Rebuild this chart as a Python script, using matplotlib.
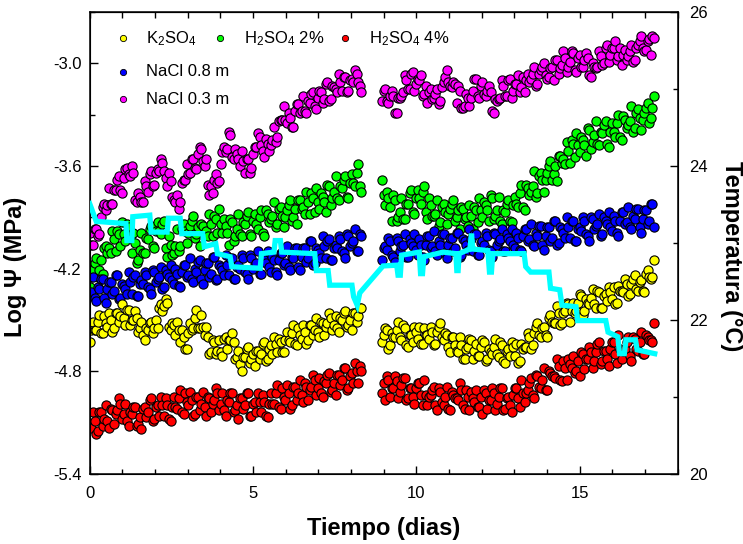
import numpy as np
import matplotlib
matplotlib.use("Agg")
import matplotlib.pyplot as plt
from matplotlib.ticker import MultipleLocator, FormatStrFormatter

plt.rcParams['font.family'] = ['Liberation Sans', 'DejaVu Sans']
plt.rcParams['mathtext.default'] = 'regular'

# ---------------- data ----------------
# sampling times (days) of the two measurement periods; "b" readings fall between
t_seg1 = np.linspace(0.0, 8.32, 85)
t_seg2 = np.linspace(8.95, 17.28, 85)
t_seg1b = (t_seg1[:-1] + t_seg1[1:]) / 2
t_seg2b = (t_seg2[:-1] + t_seg2[1:]) / 2

nacl03_1 = [-3.99,-4.06,-3.97,-4.00,-3.84,-3.86,-3.73,-3.82,-3.74,-3.66,
 -3.76,-3.62,-3.65,-3.60,-3.80,-3.76,-3.81,-3.69,-3.75,-3.63,
 -3.71,-3.62,-3.56,-3.63,-3.72,-3.69,-3.80,-3.77,-3.81,-3.68,
 -3.59,-3.64,-3.56,-3.62,-3.49,-3.57,-3.56,-3.77,-3.76,-3.65,
 -3.69,-3.52,-3.52,-3.40,-3.55,-3.50,-3.56,-3.51,-3.64,-3.56,
 -3.61,-3.49,-3.41,-3.48,-3.55,-3.47,-3.48,-3.37,-3.43,-3.33,
 -3.25,-3.35,-3.32,-3.37,-3.24,-3.29,-3.19,-3.29,-3.23,-3.17,
 -3.27,-3.16,-3.23,-3.12,-3.22,-3.13,-3.15,-3.06,-3.16,-3.08,
 -3.16,-3.09,-3.04,-3.11,-3.17]
nacl03_1b = [-4.06,-3.97,-4.01,-3.90,-3.82,-3.83,-3.82,-3.74,-3.68,-3.74,
 -3.67,-3.61,-3.66,-3.64,-3.81,-3.78,-3.81,-3.72,-3.65,-3.72,
 -3.64,-3.63,-3.58,-3.67,-3.64,-3.78,-3.81,-3.85,-3.70,-3.68,
 -3.65,-3.56,-3.61,-3.53,-3.50,-3.60,-3.71,-3.72,-3.68,-3.70,
 -3.59,-3.49,-3.50,-3.42,-3.56,-3.53,-3.60,-3.57,-3.56,-3.64,
 -3.53,-3.49,-3.43,-3.51,-3.44,-3.51,-3.45,-3.46,-3.34,-3.33,
 -3.33,-3.29,-3.37,-3.28,-3.24,-3.28,-3.28,-3.22,-3.18,-3.25,
 -3.20,-3.17,-3.21,-3.11,-3.21,-3.14,-3.17,-3.11,-3.08,-3.17,
 -3.10,-3.11,-3.06,-3.13]
nacl03_2 = [-3.22,-3.15,-3.23,-3.16,-3.29,-3.20,-3.19,-3.07,-3.15,-3.06,
 -3.16,-3.09,-3.07,-3.18,-3.23,-3.15,-3.20,-3.15,-3.22,-3.11,
 -3.04,-3.13,-3.11,-3.23,-3.16,-3.26,-3.18,-3.25,-3.16,-3.09,
 -3.20,-3.11,-3.19,-3.13,-3.28,-3.21,-3.21,-3.10,-3.19,-3.10,
 -3.20,-3.12,-3.07,-3.14,-3.17,-3.06,-3.09,-3.02,-3.12,-3.04,
 -3.00,-3.09,-3.03,-3.10,-2.98,-3.03,-2.93,-3.05,-2.99,-2.94,
 -3.05,-2.95,-3.02,-2.94,-3.07,-3.00,-3.03,-2.93,-3.01,-2.91,
 -2.99,-2.91,-2.87,-2.96,-3.01,-2.92,-2.96,-2.89,-2.98,-2.89,
 -2.84,-2.93,-2.87,-2.95,-2.85]
nacl03_2b = [-3.16,-3.22,-3.19,-3.19,-3.29,-3.20,-3.17,-3.10,-3.15,-3.05,
 -3.12,-3.10,-3.19,-3.13,-3.17,-3.21,-3.18,-3.24,-3.14,-3.08,
 -3.11,-3.14,-3.12,-3.13,-3.26,-3.25,-3.20,-3.20,-3.09,-3.19,
 -3.13,-3.18,-3.16,-3.17,-3.29,-3.22,-3.20,-3.13,-3.19,-3.09,
 -3.16,-3.12,-3.17,-3.08,-3.10,-3.11,-3.06,-3.13,-3.06,-3.02,
 -3.07,-3.08,-3.02,-2.98,-3.06,-3.01,-2.97,-3.02,-2.93,-3.04,
 -2.97,-3.02,-2.98,-2.97,-3.08,-3.02,-3.02,-2.96,-3.00,-2.89,
 -2.95,-2.91,-2.98,-2.91,-2.95,-2.98,-2.93,-2.99,-2.91,-2.87,
 -2.91,-2.92,-2.86,-2.84]

h2so4_2_1 = [-4.31,-4.21,-4.14,-4.21,-4.23,-4.07,-4.08,-3.98,-4.10,-4.00,
 -3.93,-4.04,-3.96,-4.11,-4.05,-4.15,-3.99,-4.11,-4.03,-3.95,
 -4.08,-3.93,-4.00,-3.92,-4.13,-4.06,-4.11,-3.97,-4.07,-3.94,
 -4.05,-3.95,-3.89,-4.00,-4.07,-3.95,-3.98,-3.88,-4.01,-3.91,
 -3.85,-3.99,-3.95,-4.06,-3.93,-4.01,-3.88,-4.01,-3.94,-3.87,
 -4.01,-3.88,-3.97,-3.86,-4.01,-3.88,-3.91,-3.81,-3.94,-3.84,
 -3.96,-3.86,-3.80,-3.90,-3.94,-3.80,-3.84,-3.75,-3.88,-3.79,
 -3.73,-3.85,-3.78,-3.87,-3.72,-3.79,-3.66,-3.80,-3.73,-3.66,
 -3.79,-3.65,-3.72,-3.59,-3.75]
h2so4_2_1b = [-4.25,-4.17,-4.25,-4.15,-4.08,-4.11,-4.11,-4.03,-3.98,-4.07,
 -4.00,-3.94,-4.02,-3.99,-4.17,-4.09,-4.11,-4.02,-3.97,-4.07,
 -3.98,-3.98,-3.94,-4.08,-4.01,-4.12,-4.07,-4.10,-3.97,-3.98,
 -3.99,-3.92,-4.02,-3.96,-3.94,-4.00,-4.01,-3.94,-3.89,-3.99,
 -3.94,-3.91,-3.99,-3.91,-4.04,-3.97,-4.00,-3.93,-3.89,-4.00,
 -3.92,-3.94,-3.90,-3.99,-3.86,-3.93,-3.89,-3.96,-3.85,-3.89,
 -3.90,-3.83,-3.92,-3.85,-3.80,-3.85,-3.88,-3.81,-3.76,-3.87,
 -3.81,-3.76,-3.81,-3.71,-3.83,-3.75,-3.79,-3.72,-3.68,-3.78,
 -3.70,-3.70,-3.64,-3.72]
h2so4_2_2 = [-3.68,-3.83,-3.79,-3.92,-3.80,-3.90,-3.79,-3.91,-3.82,-3.74,
 -3.88,-3.74,-3.82,-3.72,-3.91,-3.83,-3.89,-3.80,-3.93,-3.82,
 -3.94,-3.85,-3.80,-3.90,-3.97,-3.85,-3.90,-3.83,-3.97,-3.86,
 -3.79,-3.90,-3.83,-3.92,-3.79,-3.89,-3.78,-3.94,-3.87,-3.80,
 -3.93,-3.78,-3.84,-3.71,-3.86,-3.73,-3.75,-3.63,-3.76,-3.64,
 -3.75,-3.64,-3.57,-3.65,-3.69,-3.54,-3.56,-3.46,-3.58,-3.47,
 -3.41,-3.52,-3.45,-3.54,-3.39,-3.46,-3.34,-3.48,-3.41,-3.34,
 -3.49,-3.35,-3.43,-3.30,-3.45,-3.33,-3.36,-3.25,-3.38,-3.27,
 -3.39,-3.29,-3.23,-3.32,-3.19]
h2so4_2_2b = [-3.77,-3.75,-3.84,-3.77,-3.92,-3.87,-3.91,-3.82,-3.76,-3.87,
 -3.79,-3.79,-3.75,-3.87,-3.79,-3.89,-3.88,-3.95,-3.84,-3.87,
 -3.88,-3.82,-3.92,-3.86,-3.84,-3.91,-3.95,-3.89,-3.84,-3.93,
 -3.86,-3.81,-3.86,-3.77,-3.91,-3.86,-3.92,-3.86,-3.82,-3.92,
 -3.83,-3.82,-3.76,-3.84,-3.71,-3.77,-3.72,-3.78,-3.66,-3.68,
 -3.68,-3.60,-3.68,-3.60,-3.54,-3.58,-3.59,-3.51,-3.45,-3.55,
 -3.48,-3.43,-3.48,-3.38,-3.50,-3.42,-3.47,-3.40,-3.36,-3.47,
 -3.40,-3.40,-3.35,-3.43,-3.31,-3.38,-3.34,-3.40,-3.29,-3.32,
 -3.33,-3.26,-3.35,-3.26]

nacl08_1 = [-4.35,-4.25,-4.39,-4.32,-4.26,-4.40,-4.28,-4.35,-4.24,-4.38,
 -4.29,-4.32,-4.22,-4.35,-4.24,-4.36,-4.27,-4.22,-4.31,-4.35,
 -4.22,-4.26,-4.19,-4.31,-4.23,-4.18,-4.29,-4.23,-4.31,-4.18,
 -4.25,-4.14,-4.28,-4.22,-4.15,-4.29,-4.17,-4.25,-4.13,-4.27,
 -4.18,-4.21,-4.12,-4.24,-4.14,-4.26,-4.18,-4.12,-4.22,-4.26,
 -4.14,-4.18,-4.10,-4.23,-4.15,-4.10,-4.22,-4.15,-4.24,-4.11,
 -4.18,-4.07,-4.21,-4.14,-4.08,-4.21,-4.08,-4.16,-4.04,-4.18,
 -4.08,-4.11,-4.01,-4.14,-4.03,-4.15,-4.06,-4.01,-4.10,-4.14,
 -4.01,-4.05,-3.97,-4.10,-4.01]
nacl08_1b = [-4.34,-4.37,-4.31,-4.26,-4.37,-4.32,-4.28,-4.33,-4.24,-4.37,
 -4.30,-4.35,-4.28,-4.25,-4.36,-4.29,-4.29,-4.24,-4.32,-4.21,
 -4.28,-4.25,-4.32,-4.21,-4.25,-4.27,-4.20,-4.30,-4.22,-4.18,
 -4.24,-4.26,-4.20,-4.16,-4.26,-4.21,-4.17,-4.23,-4.13,-4.26,
 -4.19,-4.24,-4.18,-4.14,-4.26,-4.19,-4.20,-4.14,-4.23,-4.12,
 -4.20,-4.17,-4.23,-4.13,-4.17,-4.19,-4.13,-4.22,-4.15,-4.11,
 -4.17,-4.19,-4.13,-4.08,-4.19,-4.13,-4.08,-4.14,-4.04,-4.17,
 -4.09,-4.14,-4.07,-4.04,-4.15,-4.08,-4.08,-4.03,-4.11,-4.00,
 -4.07,-4.04,-4.10,-4.00]
nacl08_2 = [-4.15,-4.07,-4.02,-4.12,-4.16,-4.04,-4.07,-4.00,-4.13,-4.05,
 -4.00,-4.12,-4.06,-4.15,-4.01,-4.08,-3.98,-4.12,-4.06,-4.00,
 -4.14,-4.02,-4.10,-3.99,-4.13,-4.03,-4.06,-3.97,-4.10,-4.00,
 -4.12,-4.04,-3.99,-4.09,-4.13,-4.00,-4.04,-3.97,-4.10,-4.02,
 -3.97,-4.08,-4.02,-4.10,-3.97,-4.04,-3.94,-4.07,-4.01,-3.95,
 -4.09,-3.96,-4.04,-3.92,-4.06,-3.96,-3.99,-3.90,-4.02,-3.92,
 -4.04,-3.96,-3.90,-4.00,-4.04,-3.91,-3.95,-3.88,-4.00,-3.92,
 -3.87,-3.98,-3.92,-4.01,-3.87,-3.94,-3.84,-3.97,-3.91,-3.85,
 -3.99,-3.86,-3.94,-3.82,-3.96]
nacl08_2b = [-4.08,-4.09,-4.04,-4.13,-4.02,-4.10,-4.06,-4.13,-4.03,-4.07,
 -4.09,-4.03,-4.13,-4.06,-4.01,-4.07,-4.10,-4.04,-4.00,-4.11,
 -4.06,-4.02,-4.08,-3.99,-4.12,-4.04,-4.09,-4.03,-4.00,-4.12,
 -4.05,-4.06,-4.01,-4.10,-3.99,-4.06,-4.03,-4.10,-4.00,-4.04,
 -4.06,-3.99,-4.09,-4.01,-3.97,-4.03,-4.06,-3.99,-3.95,-4.06,
 -4.01,-3.96,-4.02,-3.92,-4.05,-3.97,-4.02,-3.96,-3.92,-4.04,
 -3.97,-3.98,-3.92,-4.01,-3.90,-3.97,-3.94,-4.01,-3.90,-3.94,
 -3.96,-3.89,-3.99,-3.92,-3.87,-3.93,-3.96,-3.89,-3.85,-3.96,
 -3.91,-3.86,-3.92,-3.82]

k2so4_1 = [-4.63,-4.51,-4.56,-4.47,-4.58,-4.52,-4.46,-4.57,-4.46,-4.51,
 -4.41,-4.53,-4.44,-4.50,-4.45,-4.57,-4.51,-4.62,-4.56,-4.51,
 -4.55,-4.55,-4.41,-4.42,-4.40,-4.56,-4.53,-4.51,-4.63,-4.60,
 -4.67,-4.52,-4.55,-4.44,-4.55,-4.54,-4.54,-4.70,-4.62,-4.70,
 -4.62,-4.71,-4.60,-4.62,-4.58,-4.73,-4.68,-4.80,-4.72,-4.66,
 -4.73,-4.77,-4.68,-4.70,-4.63,-4.73,-4.65,-4.60,-4.69,-4.63,
 -4.69,-4.57,-4.63,-4.53,-4.65,-4.59,-4.53,-4.64,-4.53,-4.59,
 -4.49,-4.60,-4.52,-4.54,-4.46,-4.56,-4.48,-4.57,-4.50,-4.45,
 -4.53,-4.56,-4.46,-4.48,-4.43]
k2so4_1b = [-4.56,-4.56,-4.51,-4.58,-4.48,-4.54,-4.50,-4.55,-4.46,-4.48,
 -4.49,-4.44,-4.53,-4.50,-4.49,-4.55,-4.59,-4.55,-4.52,-4.58,
 -4.50,-4.43,-4.45,-4.38,-4.54,-4.52,-4.59,-4.56,-4.56,-4.67,
 -4.58,-4.56,-4.49,-4.55,-4.47,-4.59,-4.60,-4.69,-4.63,-4.68,
 -4.69,-4.61,-4.67,-4.62,-4.63,-4.72,-4.76,-4.72,-4.67,-4.75,
 -4.70,-4.68,-4.73,-4.64,-4.74,-4.67,-4.70,-4.64,-4.61,-4.69,
 -4.62,-4.62,-4.58,-4.64,-4.55,-4.61,-4.57,-4.62,-4.53,-4.56,
 -4.57,-4.51,-4.59,-4.52,-4.49,-4.53,-4.55,-4.49,-4.46,-4.54,
 -4.50,-4.46,-4.51,-4.43]
k2so4_2 = [-4.63,-4.55,-4.67,-4.58,-4.60,-4.51,-4.62,-4.55,-4.66,-4.59,
 -4.54,-4.61,-4.64,-4.55,-4.59,-4.54,-4.65,-4.57,-4.52,-4.62,
 -4.59,-4.69,-4.60,-4.68,-4.60,-4.73,-4.67,-4.61,-4.73,-4.64,
 -4.71,-4.62,-4.74,-4.67,-4.70,-4.61,-4.72,-4.65,-4.75,-4.67,
 -4.63,-4.71,-4.75,-4.64,-4.66,-4.58,-4.67,-4.58,-4.52,-4.60,
 -4.54,-4.60,-4.47,-4.52,-4.42,-4.53,-4.46,-4.40,-4.51,-4.40,
 -4.45,-4.35,-4.47,-4.38,-4.41,-4.32,-4.43,-4.34,-4.43,-4.35,
 -4.31,-4.38,-4.41,-4.30,-4.33,-4.26,-4.36,-4.29,-4.24,-4.33,
 -4.27,-4.34,-4.21,-4.26,-4.15]
k2so4_2b = [-4.59,-4.56,-4.65,-4.60,-4.56,-4.60,-4.53,-4.65,-4.59,-4.63,
 -4.57,-4.54,-4.64,-4.59,-4.61,-4.57,-4.64,-4.54,-4.60,-4.58,
 -4.66,-4.60,-4.65,-4.69,-4.65,-4.73,-4.66,-4.62,-4.68,-4.71,
 -4.66,-4.63,-4.73,-4.69,-4.66,-4.70,-4.63,-4.74,-4.68,-4.71,
 -4.66,-4.64,-4.74,-4.67,-4.66,-4.60,-4.65,-4.54,-4.59,-4.55,
 -4.59,-4.49,-4.51,-4.52,-4.46,-4.52,-4.45,-4.41,-4.45,-4.46,
 -4.40,-4.36,-4.45,-4.40,-4.37,-4.41,-4.33,-4.43,-4.36,-4.39,
 -4.34,-4.31,-4.40,-4.33,-4.34,-4.29,-4.35,-4.26,-4.32,-4.28,
 -4.33,-4.23,-4.25,-4.25]

h2so4_4_1 = [-5.11,-5.04,-5.17,-5.04,-5.12,-5.00,-5.13,-5.03,-5.05,-4.96,
 -5.08,-4.99,-5.12,-5.05,-5.01,-5.11,-5.14,-5.01,-5.04,-4.96,
 -5.08,-5.00,-4.95,-5.06,-5.00,-5.09,-4.95,-5.02,-4.91,-5.05,
 -4.98,-4.92,-5.06,-4.95,-5.03,-4.92,-5.06,-4.96,-4.99,-4.90,
 -5.03,-4.93,-5.06,-4.98,-4.93,-5.03,-5.08,-4.96,-5.00,-4.93,
 -5.06,-4.98,-4.93,-5.04,-4.98,-5.07,-4.93,-4.99,-4.88,-5.02,
 -4.95,-4.88,-5.02,-4.89,-4.97,-4.85,-4.98,-4.89,-4.91,-4.82,
 -4.94,-4.84,-4.95,-4.87,-4.81,-4.91,-4.94,-4.82,-4.85,-4.78,
 -4.90,-4.81,-4.75,-4.87,-4.80]
h2so4_4_1b = [-5.13,-5.09,-5.15,-5.04,-5.08,-5.09,-5.02,-5.11,-5.03,-4.99,
 -5.05,-5.09,-5.04,-5.01,-5.12,-5.07,-5.02,-5.07,-4.97,-5.09,
 -5.01,-5.06,-5.00,-4.96,-5.08,-5.01,-5.01,-4.96,-5.04,-4.93,
 -5.00,-4.97,-5.05,-4.95,-4.99,-5.01,-4.95,-5.04,-4.97,-4.93,
 -4.99,-5.03,-4.97,-4.93,-5.04,-5.00,-4.96,-5.02,-4.93,-5.06,
 -4.99,-5.04,-4.98,-4.94,-5.06,-4.99,-4.99,-4.93,-5.01,-4.90,
 -4.97,-4.93,-5.00,-4.89,-4.93,-4.94,-4.87,-4.97,-4.89,-4.85,
 -4.90,-4.93,-4.86,-4.82,-4.92,-4.87,-4.82,-4.88,-4.78,-4.91,
 -4.83,-4.87,-4.80,-4.77]
h2so4_4_2 = [-4.93,-4.97,-4.85,-4.90,-4.83,-4.96,-4.88,-4.84,-4.96,-4.90,
 -4.99,-4.87,-4.94,-4.85,-5.00,-4.94,-4.89,-5.03,-4.92,-5.00,
 -4.89,-5.03,-4.94,-4.96,-4.87,-5.00,-4.91,-5.03,-4.96,-4.91,
 -5.01,-5.05,-4.93,-4.97,-4.90,-5.03,-4.95,-4.90,-5.02,-4.95,
 -5.04,-4.90,-4.96,-4.85,-4.98,-4.91,-4.84,-4.96,-4.83,-4.90,
 -4.78,-4.91,-4.81,-4.83,-4.73,-4.85,-4.74,-4.85,-4.76,-4.71,
 -4.80,-4.83,-4.70,-4.73,-4.66,-4.78,-4.69,-4.63,-4.74,-4.68,
 -4.77,-4.63,-4.70,-4.59,-4.73,-4.67,-4.60,-4.74,-4.61,-4.68,
 -4.57,-4.70,-4.60,-4.62,-4.52]
h2so4_4_2b = [-4.87,-4.83,-4.95,-4.90,-4.86,-4.92,-4.84,-4.97,-4.90,-4.95,
 -4.90,-4.87,-5.00,-4.94,-4.95,-4.91,-5.00,-4.90,-4.98,-4.95,
 -5.02,-4.92,-4.96,-4.97,-4.91,-5.02,-4.95,-4.92,-4.98,-5.01,
 -4.95,-4.91,-5.02,-4.97,-4.93,-4.99,-4.90,-5.03,-4.96,-5.00,
 -4.94,-4.90,-5.01,-4.93,-4.93,-4.87,-4.94,-4.82,-4.89,-4.85,
 -4.91,-4.80,-4.83,-4.84,-4.77,-4.86,-4.78,-4.73,-4.78,-4.81,
 -4.74,-4.69,-4.79,-4.73,-4.69,-4.74,-4.64,-4.76,-4.68,-4.73,
 -4.67,-4.63,-4.75,-4.67,-4.68,-4.63,-4.71,-4.60,-4.67,-4.63,
 -4.70,-4.59,-4.62,-4.63]

# temperature record (days, deg C)
temp_t = [0.00, 0.20, 1.11, 1.14, 1.29, 1.32, 1.84, 1.88, 2.37, 2.41,
          2.77, 2.82, 3.46, 3.51, 3.86, 3.91, 4.30, 4.35, 5.22, 5.26,
          5.64, 5.68, 5.84, 5.88, 6.89, 6.94, 7.30, 7.35, 8.03, 8.08,
          8.19, 8.27, 8.98, 9.40, 9.44, 9.51, 9.55, 10.09, 10.13, 10.19,
          10.23, 10.82, 11.21, 11.24, 11.28, 11.31, 11.64, 11.69, 11.73, 12.19,
          12.24, 12.30, 12.34, 13.30, 13.35, 13.50, 14.06, 14.11, 14.39, 14.46,
          14.89, 14.94, 15.80, 15.87, 16.17, 16.22, 16.37, 16.42, 16.71, 16.76,
          17.30]
temp_c = [23.51, 23.28, 23.25, 23.03, 23.03, 23.34, 23.36, 23.14, 23.14, 23.32,
          23.32, 23.12, 23.12, 22.95, 22.99, 22.86, 22.82, 22.69, 22.67, 22.86,
          22.88, 23.03, 23.03, 22.88, 22.86, 22.64, 22.64, 22.45, 22.45, 22.30,
          22.19, 22.35, 22.70, 22.71, 22.58, 22.58, 22.84, 22.88, 22.60, 22.60,
          22.82, 22.88, 22.86, 22.64, 22.64, 22.86, 22.92, 23.12, 22.92, 22.90,
          22.62, 22.62, 22.86, 22.86, 22.69, 22.62, 22.62, 22.41, 22.39, 22.19,
          22.17, 21.99, 21.99, 21.84, 21.78, 21.56, 21.56, 21.74, 21.74, 21.61,
          21.56]

series = [
    ("#ff00ff", [nacl03_1, nacl03_1b, nacl03_2, nacl03_2b]),
    ("#00ff00", [h2so4_2_1, h2so4_2_1b, h2so4_2_2, h2so4_2_2b]),
    ("#0000ff", [nacl08_1, nacl08_1b, nacl08_2, nacl08_2b]),
    ("#ffff00", [k2so4_1, k2so4_1b, k2so4_2, k2so4_2b]),
    ("#ff0000", [h2so4_4_1, h2so4_4_1b, h2so4_4_2, h2so4_4_2b]),
]

# ---------------- figure ----------------
fig = plt.figure(figsize=(7.43, 5.44), dpi=100)
ax = fig.add_axes([0.1207, 0.1292, 0.7913, 0.8487])

t_all = np.concatenate([t_seg1, t_seg1b, t_seg2, t_seg2b])
order = np.argsort(t_all, kind='stable')
for col, parts in series:
    v_all = np.concatenate(parts)
    ax.scatter(t_all[order], v_all[order], s=44, c=col,
               edgecolors='black', linewidths=0.8, zorder=3)

ax.set_xlim(0, 18)
ax.set_ylim(-5.4, -2.7)
ax.xaxis.set_major_locator(MultipleLocator(5))
ax.xaxis.set_minor_locator(MultipleLocator(1))
ax.yaxis.set_major_locator(MultipleLocator(0.6))
ax.yaxis.set_minor_locator(MultipleLocator(0.3))
ax.yaxis.set_major_formatter(FormatStrFormatter('%.1f'))
ax.tick_params(which='both', direction='in', top=False, right=False,
               labelsize=12, width=1.0)
ax.tick_params(which='major', length=6)
ax.tick_params(which='minor', length=3.5)
ax.tick_params(axis='y', pad=6)
ax.tick_params(axis='x', pad=9)
for sp in ax.spines.values():
    sp.set_linewidth(1.1)

secax = ax.secondary_xaxis('top')
secax.xaxis.set_major_locator(MultipleLocator(1))
secax.tick_params(direction='in', length=4, width=1.0, labeltop=False)

ax.set_xlabel("Tiempo (dias)", fontsize=17, fontweight='bold')
ax.xaxis.set_label_coords(0.50, -0.094)
ax.set_ylabel("Log \u03a8 (MPa)", fontsize=17, fontweight='bold')
ax.yaxis.set_label_coords(-0.107, 0.448)

ax2 = ax.twinx()
ax2.plot(temp_t, temp_c, color='#00ffff', lw=3.8, solid_joinstyle='miter', zorder=5)
ax2.set_ylim(20, 26)
ax2.yaxis.set_major_locator(MultipleLocator(2))
ax2.yaxis.set_minor_locator(MultipleLocator(1))
ax2.tick_params(which='both', direction='in', labelsize=12, width=1.0, pad=8)
ax2.tick_params(which='major', length=6)
ax2.tick_params(which='minor', length=3.5)
ax2.set_ylabel("Temperatura (\u00b0C)", fontsize=17, fontweight='bold',
               rotation=-90, va='center')
ax2.yaxis.set_label_coords(1.091, 0.471)

# legend (manual layout)
leg_items = [
    ("K$_2$SO$_4$", "#ffff00", 0.057, 0.943, 0.0958),
    ("H$_2$SO$_4$ 2%", "#00ff00", 0.2216, 0.943, 0.2625),
    ("H$_2$SO$_4$ 4%", "#ff0000", 0.4343, 0.943, 0.4756),
    ("NaCl 0.8 m", "#0000ff", 0.057, 0.871, 0.0958),
    ("NaCl 0.3 m", "#ff00ff", 0.057, 0.811, 0.0958),
]
for label, col, mx, my, tx in leg_items:
    ax.plot([mx], [my], 'o', ms=4.5, mfc=col, mec='black', mew=0.6,
            transform=ax.transAxes, zorder=6, clip_on=False)
    ax.text(tx, my, label, transform=ax.transAxes, fontsize=12,
            va='center', ha='left', zorder=6)

fig.savefig("out.png", dpi=100)
